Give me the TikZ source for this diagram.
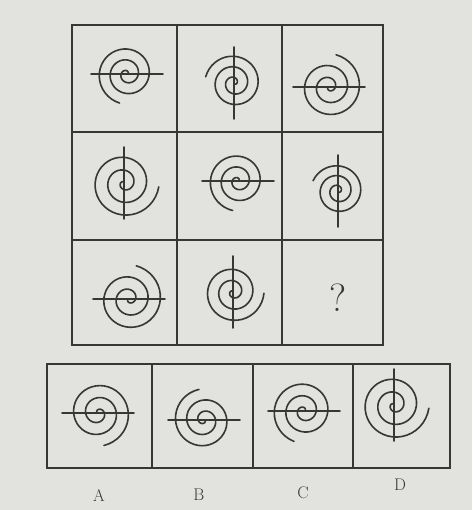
\documentclass[tikz,border=0pt]{standalone}
\usepackage{tikz}
\definecolor{inkgray}{RGB}{55,55,55}
\definecolor{paper}{RGB}{226,226,223}
\tikzset{
  frame/.style={line width=1.8pt, draw=inkgray},
  swirl/.style={line width=2.3pt, draw=inkgray, line cap=round},
  optlabel/.style={text=inkgray, font=\fontsize{24}{28}\selectfont},
}
% spiral: x, y, end angle, radius, sense, bar angle
\newcommand{\swirl}[6]{%
  \draw[swirl] plot[domain=0.04:1, samples=110, variable=\t]
    ({#1+#4*\t*cos(#3+#5*990*(1-\t))}, {#2+#4*\t*sin(#3+#5*990*(1-\t))});
  \draw[swirl] ([shift={(#1,#2)}]#6:36) -- ([shift={(#1,#2)}]#6+180:36);
}

\begin{document}
\begin{tikzpicture}[x=0.05cm,y=-0.05cm]
  % Define page
  \fill[paper] (0,0) rectangle (472,510);
  \useasboundingbox (0,0) rectangle (472,510);

  % Draw the 3x3 grid
  \draw[frame] (72,25) rectangle (383,345);
  \foreach \gx in {177, 282} { \draw[frame] (\gx,25) -- (\gx,345); }
  \foreach \gy in {132, 240} { \draw[frame] (72,\gy) -- (383,\gy); }

  % Draw the option boxes
  \draw[frame] (47,364) rectangle (450,468);
  \foreach \gx in {152, 253, 353} { \draw[frame] (\gx,364) -- (\gx,468); }

  % Grid spirals
  \swirl{127}{74}{104}{30}{1}{0}
  \swirl{234}{83}{192}{29}{1}{90}
  \swirl{329}{87}{282}{33}{1}{0}
  \swirl{124}{183}{6}{35}{1}{90}
  \swirl{238}{181}{100}{30}{1}{0}
  \swirl{338}{191}{202}{27}{1}{90}
  \swirl{129}{299}{282}{34}{1}{0}
  \swirl{233}{292}{2}{31}{1}{90}
  \node[text=inkgray, font=\fontsize{56}{60}\selectfont] (qmark) at (338,298) {?};

  % Option spirals
  \swirl{98}{413}{80}{33}{-1}{0}
  \swirl{204}{420}{261}{31}{-1}{0}
  \swirl{304}{411}{108}{32}{1}{0}
  \swirl{394}{405}{5}{35}{1}{90}

  \node[optlabel] (labA) at (99,496) {A};
  \node[optlabel] (labB) at (199,495) {B};
  \node[optlabel] (labC) at (303,493) {C};
  \node[optlabel] (labD) at (400,485) {D};
\end{tikzpicture}
\end{document}
